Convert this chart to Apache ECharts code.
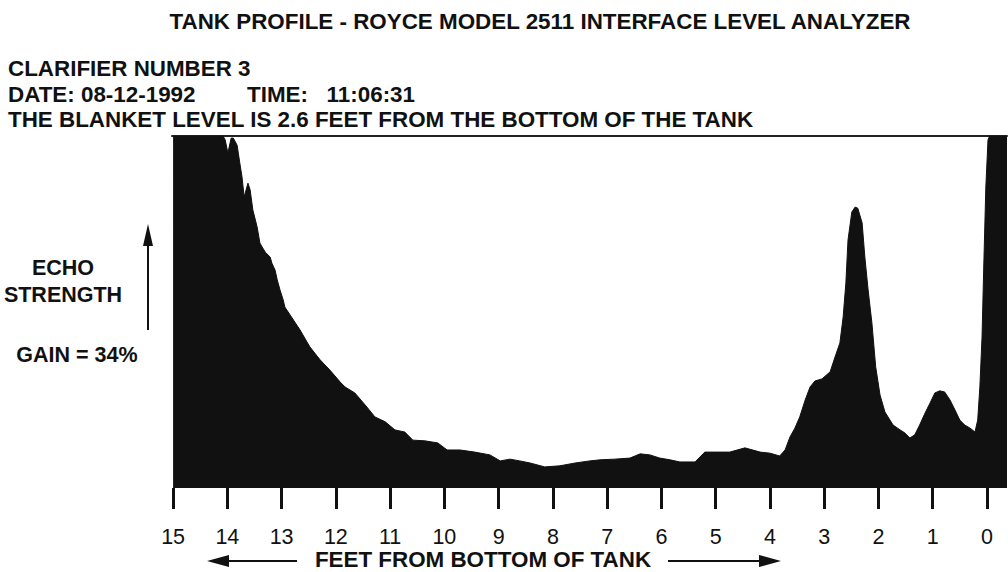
<!DOCTYPE html>
<html>
<head>
<meta charset="utf-8">
<script src="https://cdn.jsdelivr.net/npm/echarts@6/dist/echarts.min.js"></script>
<style>
html,body{margin:0;padding:0;background:#fff;}
#chart{width:1008px;height:572px;}
</style>
</head>
<body>
<div id="chart"></div>
<script>
// Distance from bottom of tank (feet)
const feet = [15.00,14.08,14.04,13.99,13.93,13.89,13.82,13.77,13.73,13.69,13.62,13.58,13.53,13.45,13.40,13.36,13.30,13.25,13.21,13.18,13.12,13.08,13.03,12.97,12.94,12.84,12.66,12.48,12.29,12.11,11.92,11.83,11.65,11.46,11.28,11.09,10.91,10.73,10.58,10.36,10.12,9.95,9.71,9.44,9.16,8.97,8.79,8.61,8.42,8.15,7.87,7.59,7.32,7.13,6.86,6.58,6.39,6.21,6.03,5.84,5.66,5.38,5.20,5.01,4.74,4.46,4.18,4.00,3.82,3.72,3.63,3.54,3.45,3.35,3.26,3.17,3.04,2.89,2.80,2.71,2.65,2.60,2.56,2.49,2.43,2.38,2.30,2.25,2.19,2.12,2.05,1.97,1.88,1.73,1.60,1.51,1.42,1.33,1.24,1.14,1.05,0.96,0.87,0.78,0.68,0.59,0.50,0.41,0.31,0.22,0.17,0.13,0.09,0.06,0.02,-0.02,-0.05,-0.37];
// Echo strength (% of full scale)
const strength = [100,100,98.9,95.2,99.4,99.4,97.4,92.3,88.4,82.7,86.6,84.7,79.0,74.1,69.6,68.5,67.0,66.2,65.6,63.9,61.9,59.1,56.3,53.4,51.4,49.1,44.9,40.1,36.4,33.5,30.1,28.7,27.0,23.6,20.2,18.8,16.5,15.9,13.6,13.4,12.8,10.8,10.8,10.2,9.4,7.7,8.2,7.7,7.1,6.0,6.3,7.1,7.7,8.0,8.2,8.5,9.7,9.4,8.5,8.0,7.4,7.4,10.2,10.2,10.2,11.4,10.2,9.9,9.1,10.8,14.5,17.0,20.2,25.0,28.7,30.4,31.0,33.0,37.2,41.2,48.6,58.2,70.5,78.4,79.8,79.5,75.3,65.6,56.3,46.9,34.4,26.4,21.6,17.9,16.5,15.6,14.2,15.1,17.9,21.3,24.1,27.0,27.6,27.3,25.0,22.2,19.3,17.9,17.0,15.9,19.3,28.7,42.9,61.9,85.5,98.9,100,100];
// Tick labels on the distance axis
const tickFeet = [15,14,13,12,11,10,9,8,7,6,5,4,3,2,1,0];

const titleText = 'TANK PROFILE - ROYCE MODEL 2511 INTERFACE LEVEL ANALYZER';
const infoLines = ['CLARIFIER NUMBER 3', 'DATE: 08-12-1992', 'TIME:   11:06:31', 'THE BLANKET LEVEL IS 2.6 FEET FROM THE BOTTOM OF THE TANK'];
const yTitle = ['ECHO', 'STRENGTH', 'GAIN = 34%'];
const xTitle = 'FEET FROM BOTTOM OF TANK';

const INK = '#101110';
const FONT = '"Liberation Sans", Arial, sans-serif';
const HEAD = 'bold 22.4px ' + FONT;

const chart = echarts.init(document.getElementById('chart'), null, {renderer: 'svg'});

const txt = (x, y, text, opts) => Object.assign({
  type: 'text', x: x, y: y,
  style: Object.assign({text: text, fill: INK, font: HEAD, textVerticalAlign: 'middle'}, opts || {})
});

chart.setOption({
  backgroundColor: '#fff',
  animation: false,
  grid: {left: 172, right: 1, top: 136, bottom: 84},
  xAxis: [{
    type: 'value', min: -0.37, max: 15.02, inverse: true, offset: 5,
    axisLine: {show: false},
    splitLine: {show: false},
    axisTick: {show: true, customValues: tickFeet, length: 21, lineStyle: {color: INK, width: 3}},
    axisLabel: {show: true, customValues: tickFeet, margin: 33, color: INK, fontSize: 21.5, fontFamily: FONT, formatter: v => String(v)}
  }, {
    type: 'value', min: -0.37, max: 15.02, inverse: true, position: 'top',
    axisLine: {show: true, lineStyle: {color: '#222', width: 2}},
    splitLine: {show: false}, axisTick: {show: false}, axisLabel: {show: false}
  }],
  yAxis: {type: 'value', min: 0, max: 100, show: false, splitLine: {show: false}},
  series: [{
    type: 'line',
    data: feet.map((f, i) => [f, strength[i]]),
    symbol: 'none',
    lineStyle: {color: INK, width: 1},
    areaStyle: {color: INK, opacity: 1},
    z: 2
  }],
  graphic: [
    txt(540, 21, titleText, {textAlign: 'center'}),
    txt(8, 68, infoLines[0]),
    txt(8, 94, infoLines[1]),
    txt(247, 94, infoLines[2]),
    txt(8, 119, infoLines[3]),
    txt(63, 268, yTitle[0], {textAlign: 'center', font: 'bold 21.5px ' + FONT}),
    txt(63, 295, yTitle[1], {textAlign: 'center', font: 'bold 21.5px ' + FONT}),
    txt(77, 355, yTitle[2], {textAlign: 'center', font: 'bold 21.5px ' + FONT}),
    // vertical arrow
    {type: 'line', shape: {x1: 148, y1: 240, x2: 148, y2: 330}, style: {stroke: INK, lineWidth: 2}},
    {type: 'polygon', shape: {points: [[148, 224], [143, 246], [153, 246]]}, style: {fill: INK}},
    // x title and arrows
    txt(483, 559.5, xTitle, {textAlign: 'center'}),
    {type: 'line', shape: {x1: 226, y1: 561, x2: 297, y2: 561}, style: {stroke: INK, lineWidth: 2}},
    {type: 'polygon', shape: {points: [[207, 561], [229, 555], [229, 567]]}, style: {fill: INK}},
    {type: 'line', shape: {x1: 668, y1: 561, x2: 762, y2: 561}, style: {stroke: INK, lineWidth: 2}},
    {type: 'polygon', shape: {points: [[781, 561], [759, 555], [759, 567]]}, style: {fill: INK}}
  ]
});
</script>
</body>
</html>
